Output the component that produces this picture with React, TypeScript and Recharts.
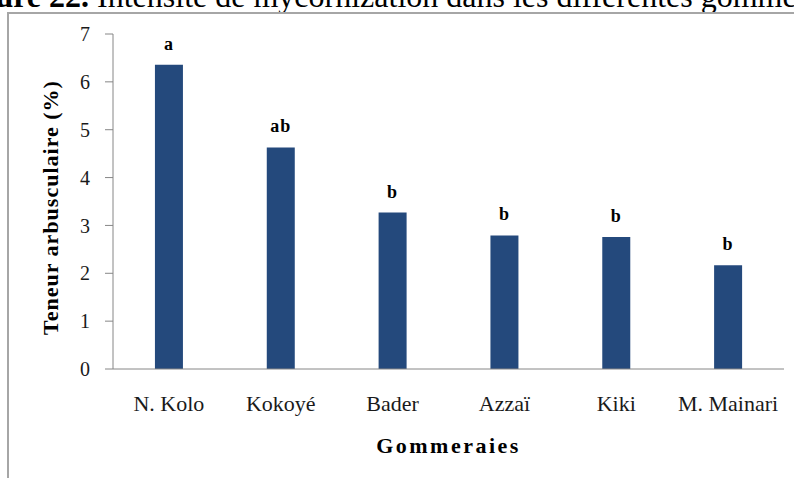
import React from "react";
import { BarChart, Bar, XAxis, YAxis, LabelList, Label } from "recharts";

const gommeraies = ["N. Kolo", "Kokoyé", "Bader", "Azzaï", "Kiki", "M. Mainari"];
const teneur = [6.36, 4.63, 3.27, 2.79, 2.76, 2.17];
const groupes = ["a", "ab", "b", "b", "b", "b"];
const yTicks = [0, 1, 2, 3, 4, 5, 6, 7];

const data = gommeraies.map((name, i) => ({ name, value: teneur[i], grp: groupes[i] }));

const SERIF = "Liberation Serif";

const css = `
.chart-box text, .chart-box tspan { font-family: "Liberation Serif" !important; }
`;

// rotated y-axis title, centred on the plot's height
function YTitle(props: any) {
  const vb = props.viewBox || {};
  const cx = 58;
  const cy = vb.y + vb.height / 2 + 6;
  return (
    <text
      x={cx}
      y={cy}
      transform={`rotate(-90, ${cx}, ${cy})`}
      textAnchor="middle"
      fontSize={22}
      fontWeight="bold"
      fill="#000"
      letterSpacing={1}
      fontFamily={SERIF}
    >
      Teneur arbusculaire (%)
    </text>
  );
}

export default function App() {
  return (
    <div
      style={{
        position: "fixed",
        left: 0,
        top: 0,
        width: 794,
        height: 478,
        overflow: "hidden",
        background: "#fff",
        fontFamily: SERIF,
      }}
    >
      <style>{css}</style>
      {/* caption, cut off at the top of the picture */}
      <div
        style={{
          position: "absolute",
          left: -49,
          top: -20,
          whiteSpace: "nowrap",
          fontSize: 32,
          lineHeight: "32px",
          color: "#000",
        }}
      >
        <b>Figure 22.</b> Intensité de mycorhization dans les différentes gommeraies
      </div>
      {/* frame */}
      <div
        style={{
          position: "absolute",
          left: 7,
          top: 12,
          width: 800,
          height: 480,
          borderLeft: "2px solid #a6a6a6",
          borderTop: "2px solid #a6a6a6",
        }}
      />
      <div className="chart-box" style={{ position: "absolute", left: 0, top: 0 }}>
        <BarChart
          width={794}
          height={478}
          data={data}
          margin={{ top: 34, right: 10, bottom: 0, left: 0 }}
          barCategoryGap="37.5%"
          style={{ fontFamily: SERIF }}
        >
          <XAxis
            dataKey="name"
            height={109}
            stroke="#868686"
            tickLine={false}
            tickSize={0}
            tickMargin={26}
            tick={{ fill: "#1a1a1a", fontSize: 22, fontFamily: SERIF }}
          >
            <Label
              value="Gommeraies"
              position="insideBottom"
              offset={25}
              style={{ fontFamily: SERIF, fontSize: 22, fontWeight: "bold", fill: "#000", letterSpacing: 2.5 }}
            />
          </XAxis>
          <YAxis
            width={113}
            domain={[0, 7]}
            ticks={yTicks}
            stroke="#868686"
            tickSize={8}
            tickMargin={15}
            tick={{ fill: "#1a1a1a", fontSize: 20, fontFamily: SERIF }}
          >
            <Label content={<YTitle />} />
          </YAxis>
          <Bar dataKey="value" fill="#24497C" isAnimationActive={false}>
            <LabelList
              dataKey="grp"
              position="top"
              offset={15}
              style={{ fontFamily: SERIF, fontSize: 18, fontWeight: "bold", fill: "#000", letterSpacing: 1 }}
            />
          </Bar>
        </BarChart>
      </div>
    </div>
  );
}
